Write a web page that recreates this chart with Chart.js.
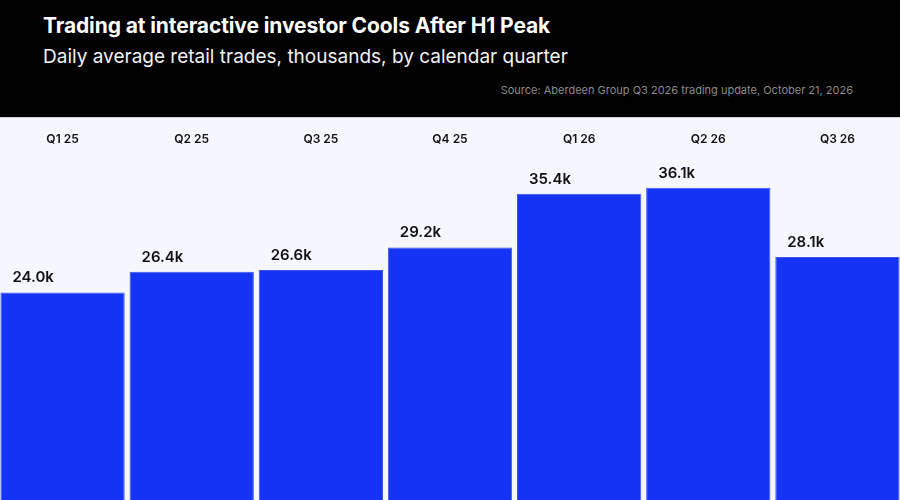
<!DOCTYPE html>
<html>
<head>
<meta charset="utf-8">
<script src="https://cdn.jsdelivr.net/npm/chart.js@4.4.1/dist/chart.umd.min.js"></script>
<style>
  html, body { margin: 0; padding: 0; width: 900px; height: 500px; overflow: hidden; font-family: Inter, "Noto Sans", sans-serif; }
  .head { position: relative; height: 117px; background: #000; color: #fff; border-bottom: 1px solid #d4d4d8; }
  .title { position: absolute; left: 43px; top: 13px; font-size: 21px; font-weight: 700; letter-spacing: -0.1px; }
  .sub { position: absolute; left: 43px; top: 45px; font-size: 19px; font-weight: 400; color: #f2f2f2; }
  .src { position: absolute; right: 47px; top: 83px; font-size: 11px; color: #8c8c8c; }
  .wrap { position: relative; width: 900px; height: 382px; background: #f5f6fe; overflow: hidden; }
  .inner { position: absolute; left: -2px; top: 0; width: 904px; height: 382px; }
</style>
</head>
<body>
<div class="head">
  <div class="title">Trading at interactive investor Cools After H1 Peak</div>
  <div class="sub">Daily average retail trades, thousands, by calendar quarter</div>
  <div class="src">Source: Aberdeen Group Q3 2026 trading update, October 21, 2026</div>
</div>
<div class="wrap"><div class="inner"><canvas id="c"></canvas></div></div>
<script>
const quarters = ['Q1 25', 'Q2 25', 'Q3 25', 'Q4 25', 'Q1 26', 'Q2 26', 'Q3 26'];
const trades = [24.0, 26.4, 26.6, 29.2, 35.4, 36.1, 28.1];
const valueLabels = ['24.0k', '26.4k', '26.6k', '29.2k', '35.4k', '36.1k', '28.1k'];

// quarter names across the top, value labels above each bar
const labelsPlugin = {
  id: 'labels',
  afterDatasetsDraw(chart) {
    const ctx = chart.ctx;
    const x = chart.scales.x;
    ctx.save();
    ctx.fillStyle = '#111';
    ctx.font = '600 12px Inter';
    ctx.textAlign = 'center';
    ctx.textBaseline = 'middle';
    quarters.forEach((q, i) => ctx.fillText(q, x.getPixelForValue(i), 21));
    ctx.font = '600 15px Inter';
    ctx.textAlign = 'left';
    ctx.textBaseline = 'alphabetic';
    chart.getDatasetMeta(0).data.forEach((bar, i) => {
      const left = bar.x - bar.width / 2;
      ctx.fillText(valueLabels[i], left + 12, bar.y - 10);
    });
    ctx.restore();
  }
};

new Chart(document.getElementById('c'), {
  type: 'bar',
  data: {
    labels: quarters,
    datasets: [{
      data: trades,
      backgroundColor: '#1433f5',
      borderColor: '#3f56e8',
      borderWidth: 1,
      categoryPercentage: 1,
      barPercentage: 0.9625
    }]
  },
  options: {
    responsive: true,
    maintainAspectRatio: false,
    animation: false,
    layout: { padding: { top: 36, left: 0, right: 0, bottom: 0 } },
    plugins: { legend: { display: false }, tooltip: { enabled: false } },
    scales: {
      x: { display: false },
      y: { display: false, min: 0, max: 40 }
    }
  },
  plugins: [labelsPlugin]
});
</script>
</body>
</html>
